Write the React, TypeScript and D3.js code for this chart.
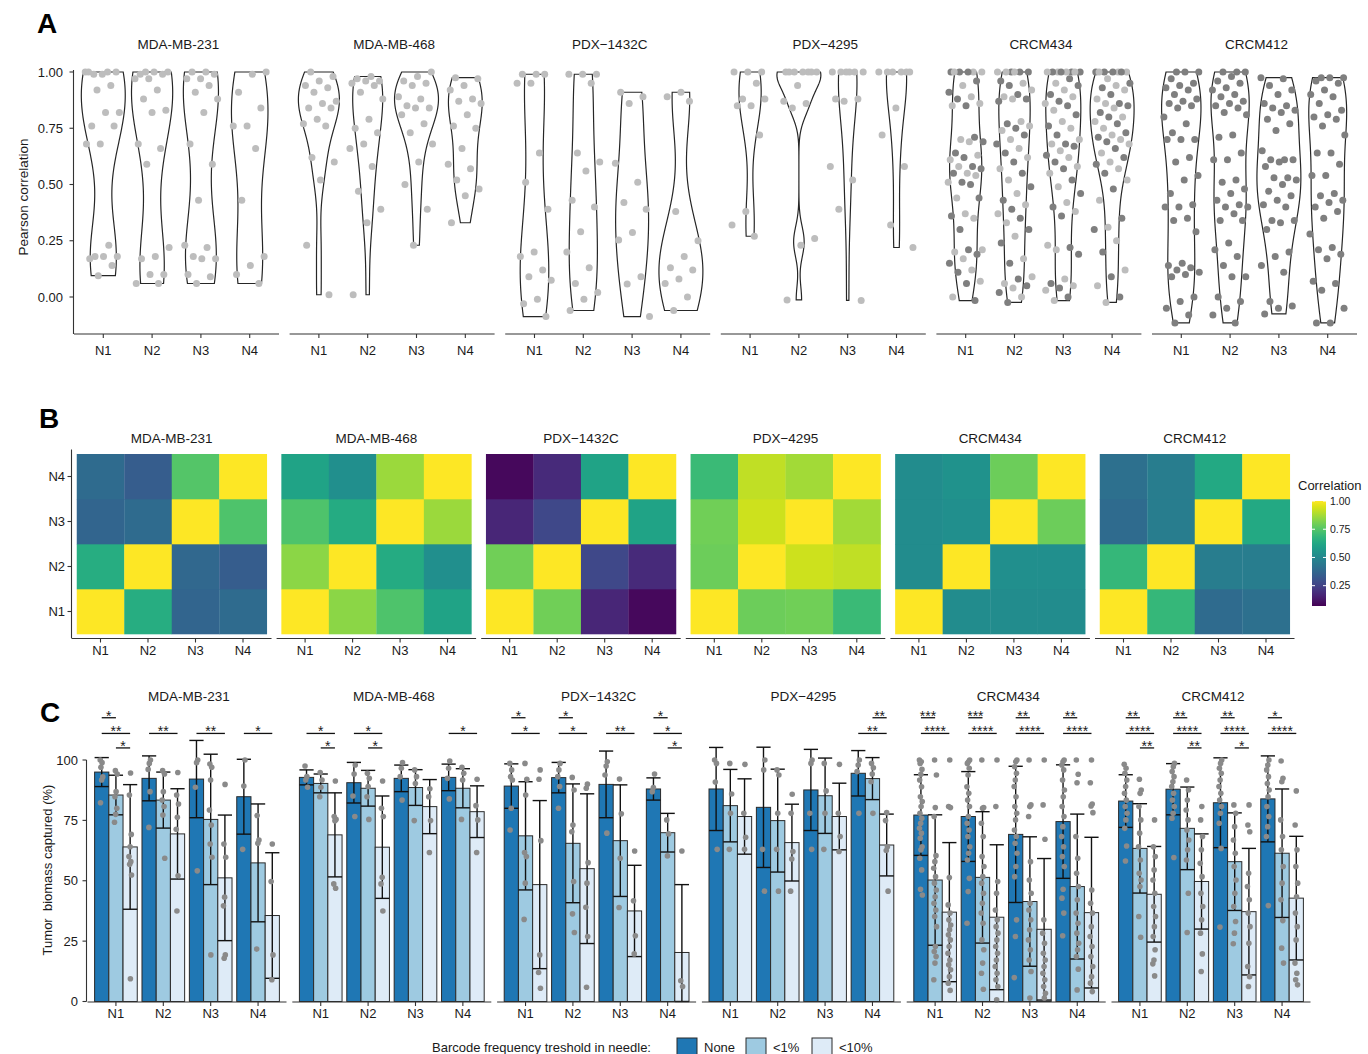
import React from "react";
import * as d3 from "d3";

const FONT = "'Liberation Sans', Arial, Helvetica, sans-serif";
const INK = "#1a1a1a";
const AXIS = "#333333";

// ---------- shared categories ----------
const models = ["MDA-MB-231", "MDA-MB-468", "PDX\u22121432C", "PDX\u22124295", "CRCM434", "CRCM412"];
const needles = ["N1", "N2", "N3", "N4"];
const thresholds = ["None", "<1%", "<10%"];
const thresholdColors = ["#1f77b4", "#9ecae1", "#deebf7"];
const yTicksA = [0, 0.25, 0.5, 0.75, 1];
const yTicksC = [0, 25, 50, 75, 100];
const corrTicks = [0.25, 0.5, 0.75, 1];
const corrDomain = [0.07, 1];

// ---------- A: per-needle Pearson correlations ----------
const violin231 = [
  [1, 1, 0.99, 1, 0.99, 1, 0.94, 0.92, 0.82, 0.82, 0.76, 0.76, 0.68, 0.68, 0.23, 0.18, 0.18, 0.18, 0.17, 0.14, 0.095],
  [1, 1, 1, 0.99, 0.99, 0.97, 0.97, 0.92, 0.88, 0.83, 0.82, 0.68, 0.66, 0.59, 0.22, 0.18, 0.17, 0.1, 0.1, 0.06, 0.06],
  [1, 1, 0.99, 0.97, 0.97, 0.94, 0.91, 0.88, 0.82, 0.68, 0.59, 0.43, 0.23, 0.22, 0.18, 0.17, 0.17, 0.1, 0.09, 0.06],
  [1, 0.99, 0.91, 0.84, 0.76, 0.76, 0.66, 0.43, 0.18, 0.14, 0.1, 0.06],
];
const violin468 = [
  [1.0, 0.98, 0.96, 0.94, 0.93, 0.91, 0.87, 0.86, 0.84, 0.84, 0.79, 0.77, 0.76, 0.62, 0.6, 0.52, 0.23, 0.01],
  [0.98, 0.97, 0.96, 0.96, 0.95, 0.94, 0.91, 0.88, 0.79, 0.75, 0.73, 0.68, 0.66, 0.58, 0.47, 0.39, 0.33, 0.01],
  [1.0, 0.98, 0.96, 0.95, 0.94, 0.89, 0.88, 0.85, 0.84, 0.84, 0.81, 0.77, 0.73, 0.68, 0.6, 0.5, 0.39, 0.23],
  [0.975, 0.97, 0.94, 0.92, 0.88, 0.87, 0.86, 0.81, 0.76, 0.75, 0.66, 0.59, 0.57, 0.52, 0.48, 0.45, 0.33],
];
const violin1432 = [
  [0.99, 0.99, 0.99, 0.95, 0.95, 0.64, 0.51, 0.39, 0.2, 0.18, 0.12, 0.09, 0.075, -0.01, -0.03, -0.087],
  [0.99, 0.99, 0.99, 0.95, 0.64, 0.6, 0.56, 0.43, 0.4, 0.29, 0.2, 0.13, 0.06, 0.02, -0.01, -0.06],
  [0.91, 0.89, 0.86, 0.595, 0.51, 0.42, 0.39, 0.287, 0.253, 0.09, 0.058, -0.087],
  [0.91, 0.89, 0.87, 0.38, 0.25, 0.18, 0.13, 0.12, 0.08, 0.06, 0.0, -0.06],
];
const violin4295 = [
  [1, 1, 1, 0.95, 0.88, 0.88, 0.85, 0.85, 0.72, 0.38, 0.32, 0.27],
  [1, 1, 1, 1, 1, 1, 1, 0.94, 0.87, 0.86, 0.84, 0.26, 0.23, -0.013],
  [1, 1, 1, 1, 1, 1, 0.88, 0.88, 0.87, 0.58, 0.52, 0.39, -0.015],
  [1, 1, 1, 1, 1, 1, 0.84, 0.72, 0.58, 0.32, 0.22],
];
const violin434 = [
  [1, 1, 1, 1, 1, 1, 0.96, 0.94, 0.91, 0.89, 0.88, 0.86, 0.85, 0.85, 0.71, 0.7, 0.69, 0.69, 0.64, 0.63, 0.62, 0.61,
    0.58, 0.58, 0.57, 0.55, 0.55, 0.54, 0.51, 0.51, 0.5, 0.44, 0.44, 0.37, 0.36, 0.35, 0.3, 0.21, 0.21, 0.2, 0.19,
    0.17, 0.15, 0.12, 0.11, 0.07, 0.06, 0.0, -0.016],
  [1, 1, 1, 1, 1, 1, 0.96, 0.95, 0.94, 0.92, 0.9, 0.89, 0.88, 0.88, 0.87, 0.78, 0.77, 0.76, 0.75, 0.74, 0.72, 0.7,
    0.68, 0.66, 0.64, 0.62, 0.6, 0.57, 0.55, 0.52, 0.49, 0.46, 0.43, 0.41, 0.39, 0.37, 0.35, 0.33, 0.3, 0.27, 0.24,
    0.17, 0.15, 0.09, 0.08, 0.06, 0.05, 0.04, 0.02, 0.0, -0.024],
  [1, 1, 1, 1, 1, 1, 1, 1, 0.97, 0.95, 0.94, 0.92, 0.9, 0.89, 0.87, 0.86, 0.85, 0.83, 0.81, 0.78, 0.76, 0.75, 0.72,
    0.7, 0.68, 0.68, 0.67, 0.65, 0.63, 0.62, 0.6, 0.58, 0.57, 0.55, 0.52, 0.49, 0.46, 0.42, 0.4, 0.38, 0.36, 0.23,
    0.22, 0.21, 0.19, 0.08, 0.06, 0.05, 0.04, 0.03, 0.0, -0.016],
  [1, 1, 1, 1, 1, 1, 1, 0.97, 0.95, 0.94, 0.93, 0.92, 0.9, 0.88, 0.86, 0.86, 0.85, 0.84, 0.82, 0.8, 0.8, 0.78, 0.77,
    0.75, 0.73, 0.72, 0.71, 0.7, 0.69, 0.68, 0.66, 0.64, 0.62, 0.6, 0.59, 0.57, 0.55, 0.52, 0.48, 0.43, 0.35, 0.31,
    0.3, 0.25, 0.2, 0.12, 0.09, 0.05, 0.0, -0.024],
];
const violin412 = [
  [1, 1, 1, 0.97, 0.95, 0.94, 0.93, 0.92, 0.9, 0.88, 0.87, 0.86, 0.85, 0.84, 0.8, 0.77, 0.73, 0.7, 0.7, 0.7, 0.62,
    0.6, 0.54, 0.52, 0.46, 0.41, 0.4, 0.4, 0.35, 0.34, 0.29, 0.15, 0.14, 0.13, 0.12, 0.11, 0.1, 0.09, 0.0, -0.02,
    -0.05, -0.08, -0.115],
  [1, 1, 1, 0.98, 0.96, 0.95, 0.93, 0.92, 0.9, 0.89, 0.87, 0.86, 0.85, 0.84, 0.82, 0.81, 0.72, 0.71, 0.64, 0.61,
    0.61, 0.52, 0.51, 0.48, 0.46, 0.43, 0.41, 0.4, 0.4, 0.37, 0.34, 0.34, 0.24, 0.21, 0.18, 0.14, 0.09, 0.09, 0.0,
    -0.02, -0.05, -0.08, -0.115],
  [0.975, 0.97, 0.94, 0.92, 0.9, 0.86, 0.85, 0.84, 0.83, 0.82, 0.79, 0.77, 0.74, 0.65, 0.61, 0.61, 0.61, 0.6, 0.58,
    0.53, 0.53, 0.52, 0.5, 0.47, 0.45, 0.43, 0.41, 0.4, 0.34, 0.34, 0.33, 0.3, 0.2, 0.18, 0.14, 0.11, -0.02, -0.04,
    -0.05, -0.075],
  [0.975, 0.975, 0.975, 0.96, 0.95, 0.92, 0.9, 0.89, 0.86, 0.83, 0.81, 0.8, 0.79, 0.76, 0.72, 0.64, 0.64, 0.59,
    0.54, 0.54, 0.46, 0.45, 0.43, 0.42, 0.4, 0.38, 0.35, 0.28, 0.22, 0.21, 0.19, 0.17, 0.07, 0.06, 0.03, -0.05,
    -0.115, -0.115],
];
const violinSets = [violin231, violin468, violin1432, violin4295, violin434, violin412];
// point shade per model: light, dark, or mixed mice
const pointShade = ["light", "light", "light", "light", "mixed", "dark"];

// ---------- B: needle x needle correlation matrices (rows N1..N4, cols N1..N4) ----------
const corr231 = [
  [1, 0.65, 0.37, 0.39],
  [0.65, 1, 0.38, 0.34],
  [0.37, 0.39, 1, 0.74],
  [0.39, 0.34, 0.75, 1],
];
const corr468 = [
  [1, 0.84, 0.74, 0.61],
  [0.84, 1, 0.64, 0.53],
  [0.74, 0.64, 1, 0.86],
  [0.61, 0.53, 0.86, 1],
];
const corr1432 = [
  [1, 0.8, 0.17, 0.09],
  [0.8, 1, 0.27, 0.18],
  [0.17, 0.27, 1, 0.61],
  [0.09, 0.18, 0.61, 1],
];
const corr4295 = [
  [1, 0.79, 0.8, 0.7],
  [0.79, 1, 0.93, 0.91],
  [0.8, 0.93, 1, 0.87],
  [0.7, 0.91, 0.87, 1],
];
const corr434 = [
  [1, 0.52, 0.52, 0.52],
  [0.52, 1, 0.53, 0.53],
  [0.52, 0.53, 1, 0.79],
  [0.52, 0.54, 0.79, 1],
];
const corr412 = [
  [1, 0.69, 0.39, 0.41],
  [0.69, 1, 0.46, 0.46],
  [0.39, 0.46, 1, 0.63],
  [0.41, 0.46, 0.63, 1],
];
const corrSets = [corr231, corr468, corr1432, corr4295, corr434, corr412];

// ---------- C: tumor biomass captured, [needle][threshold] ----------
const mean231 = [[95, 85.5, 64], [92.4, 83.4, 69.4], [92.1, 75.4, 51.2], [84.8, 57.4, 35.6]];
const sd231 = [[6, 8.2, 25.8], [9.3, 11.6, 18.7], [16, 27, 26], [15.5, 24.4, 26]];
const mean468 = [[92.8, 90.3, 69], [90.6, 88.3, 63.9], [92.4, 88.6, 80.7], [92.8, 88.3, 78.6]];
const sd468 = [[3.1, 3.9, 17.4], [8.4, 7.4, 21.2], [5.5, 7.4, 11.2], [5.5, 8.1, 10.7]];
const mean1432 = [[89.2, 68.6, 48.4], [92.7, 65.5, 55], [89.9, 66.6, 37.5], [88, 69.9, 20.3]];
const sd1432 = [[9.2, 22.4, 34.8], [6.3, 24.6, 31], [13.8, 23.1, 18.9], [4.6, 8, 28.1]];
const mean4295 = [[88, 81.1, 76.6], [80.4, 74.9, 65.8], [87.6, 85.2, 76.6], [94.5, 92.3, 64.8]];
const sd4295 = [[17.2, 15, 15.6], [24.9, 21.3, 15.9], [16.8, 15.6, 13.8], [9.4, 8.7, 12.8]];
const mean434 = [[77.2, 50.3, 37], [76.6, 51.4, 34.9], [69.2, 41.4, 29.9], [74.5, 47.6, 36.8]];
const sd434 = [[16.7, 27, 28.8], [18.6, 27.2, 30], [28.2, 26.8, 29.3], [23.5, 30, 31.2]];
const mean412 = [[83, 63.4, 44.4], [87.9, 71.7, 49.7], [82.3, 57.9, 37.2], [83.9, 61.4, 42.8]];
const sd412 = [[10.9, 18.5, 19.8], [10.6, 17.1, 19.7], [18.6, 20.2, 26.2], [17.8, 26.6, 25.6]];

const pts231 = [
  [[100, 98.9, 97, 93, 91.7, 82.3], [95.6, 94.2, 86.9, 84.8, 80, 77.5, 74.2], [94.6, 85.5, 69.2, 64.1, 60, 57.9, 56.8, 52.4, 9.4]],
  [[100, 98.6, 96.1, 86.9, 72.1], [95.6, 94.2, 86.9, 83.4, 80.7, 77.2, 59.3], [94.8, 85.5, 81.8, 76.3, 71.3, 52.1, 37.5]],
  [[100, 98.9, 88.7, 54.1], [98.3, 97, 91.7, 79.3, 73.1, 65.2, 59.7, 19.3], [89.9, 65.2, 59.7, 43.2, 39.6, 19.3, 17.9]],
  [[100, 89.2, 63], [77, 66.9, 65.5, 21.7], [65.2, 49.7, 19.3, 9]],
];
const pts468 = [
  [[97.5, 93.1, 91.7, 88.7], [94.8, 91.7, 88.7, 84.8], [91.3, 76.6, 75.4, 74.8, 48.7, 46.9]],
  [[97.9, 94.2, 85.1, 76.6], [94.5, 92.4, 89, 84.8, 75.4], [91.3, 80, 76.6, 51.4, 48.7, 37.5]],
  [[98.9, 96.6, 93.1, 83.4], [95.9, 93.1, 90.3, 74.9], [88.1, 84.8, 74.9, 61.7]],
  [[99.6, 96.6, 92.4, 83.9], [97, 94.5, 91.7, 75.4], [92, 81.1, 75.2, 61.7]],
];
const pts1432 = [
  [[98.6, 95.9, 93.1, 91.7, 80, 71], [98.6, 92, 85.5, 61.7, 60, 49, 34], [95.9, 92, 66.6, 19.3, 12, 5.5]],
  [[98.6, 95.9, 93.1, 89, 80], [92.8, 87.6, 73.1, 70.3, 49.7, 36.3, 28.6], [90, 88.3, 57.5, 49, 39, 26.9, 5.9]],
  [[99.3, 97.5, 93.8, 69.7], [92.1, 77.7, 59.3, 38.9], [62.3, 41.7, 27.2, 19.7]],
  [[94.2, 88.6, 86.9], [75.2, 69.4, 60.3], [62.3, 8.6, 6.2]],
];
const pts4295 = [
  [[100, 98.6, 90.9, 63], [98.6, 85.9, 77.9, 63], [98.2, 77.9, 68, 63]],
  [[100, 95.9, 63, 45.7], [95.9, 93.8, 77.9, 63, 45.7], [85.8, 77.9, 62.1, 59, 45.7]],
  [[100, 98.6, 77.9, 63], [98.6, 87.2, 77.9, 63], [98.2, 77.9, 68.3, 62.1]],
  [[100, 97.9, 95.2, 77.9], [98.6, 96.8, 94.2, 91, 77.9], [78.2, 74.9, 64.1, 62.5, 45.7]],
];
const pts434 = [
  [[100, 99.3, 98.6, 96.1, 94.1, 91.7, 88.9, 84.8, 82.8, 80.7, 77.9, 75.9, 73.8, 71.7, 69.7, 67.6, 64.1, 62.8, 59.3, 54.5, 46.5, 44.1],
    [100, 93.8, 80.3, 76.6, 60.4, 57.9, 55.2, 51.7, 49, 46.2, 43.4, 40.7, 37.9, 35.2, 31, 22.8, 20.7, 18.6, 15.9, 9],
    [100, 80.7, 80.3, 51.3, 40, 36.6, 33.8, 31.7, 29.7, 27.6, 25.5, 22.8, 20, 17.2, 15.2, 13.1, 10.3, 7.6, 4.6]],
  [[100, 99.3, 98.6, 96.6, 93.8, 88.9, 86.2, 83.4, 80.7, 76.6, 73.8, 71, 68.3, 64.1, 61.4, 58.6, 51, 45.5, 32.4],
    [100, 80.3, 80, 73.8, 68.3, 60, 55.9, 51.7, 49, 44.8, 40.7, 36.6, 32.4, 25.5, 21.4, 15.9, 11.7, 5.1],
    [100, 80.7, 49.7, 44.8, 37.9, 33.8, 31, 28.3, 25.5, 22.8, 20, 17.2, 14.5, 11.7, 9, 6.2, 0.7]],
  [[100, 99.3, 97.2, 94.5, 91.7, 89, 84.8, 80.7, 77.9, 75.2, 71, 68.3, 65.5, 61.4, 55.9, 51.7, 33.8, 26.9, 9.9],
    [100, 81.4, 80.7, 76.6, 57.9, 50.3, 44.8, 40.7, 37.9, 33.8, 29.7, 25.5, 21.4, 17.2, 12.4, 1.4],
    [100, 81.4, 67.2, 33.8, 28.3, 24.1, 20, 17.2, 14.5, 11.7, 9, 6.2, 3.4, 1.4]],
  [[100, 99.3, 97.9, 95.9, 91.7, 87.6, 84.8, 80.7, 76.6, 72.4, 68.3, 64.1, 60, 55.9, 46.5, 42.8, 36.6, 27.2],
    [100, 94.1, 90.6, 68.3, 59.3, 53.1, 47.6, 42.1, 36.6, 32.4, 28.3, 24.1, 21.4, 18.6, 13.4, 4.8],
    [100, 90.6, 81.8, 81, 78.2, 46.2, 40.7, 36.6, 31, 26.9, 22.8, 18.6, 14.5, 10.3, 7.6, 4.1]],
];
const pts412 = [
  [[98.2, 96.6, 94.5, 91.7, 89, 86.2, 83.4, 80.7, 77.9, 75.2, 71.7, 64.4, 58.2],
    [92, 87.6, 86.2, 80.7, 75.2, 69.7, 64.1, 58.6, 53.1, 50.3, 47.6, 35.2, 26.6],
    [75.2, 64.1, 60, 54.5, 50.3, 44.8, 39.3, 35.2, 31, 26.9, 21.4, 17.2, 15.6, 10.6]],
  [[98.6, 97.2, 95.2, 93.1, 91, 89, 86.2, 83.4, 80.7, 77.9, 75.9, 59.6],
    [91.7, 87.6, 83.4, 79.3, 75.2, 71, 66.9, 62.8, 58.6, 44.8, 28.6],
    [80.7, 75.2, 68.3, 62.8, 57.2, 51.7, 44.8, 39.3, 33.8, 28.3, 19.7, 12.4]],
  [[100, 98.6, 96.6, 94.5, 91.7, 89, 86.2, 83.4, 80.7, 77.9, 73.8, 63.4, 30.8],
    [81.4, 77.9, 72.4, 66.9, 61.4, 55.9, 50.3, 44.8, 39.3, 33.1, 28.3, 23.9],
    [81.4, 73.1, 70.3, 53.1, 47.6, 42.1, 36.6, 31, 24.1, 14.5, 10.3, 6.2]],
  [[100, 97.9, 95.9, 93.1, 90.3, 87.6, 84.8, 80.7, 76.6, 72.4, 68.3, 39.7],
    [99.6, 92.4, 91, 75.2, 68.3, 62.8, 55.9, 49, 42.1, 33.5, 22.1, 15.9],
    [87.2, 73.1, 62.8, 55.9, 49, 43.4, 36.6, 31, 25.5, 15.9, 11.7, 9, 6.9]],
];

// significance brackets: [needle, fromThreshold, toThreshold, label, tier]
const sig231 = [[0, 0, 1, "*", 0], [0, 0, 2, "**", 1], [0, 1, 2, "*", 2], [1, 0, 2, "**", 1], [2, 0, 2, "**", 1], [3, 0, 2, "*", 1]];
const sig468 = [[0, 0, 2, "*", 1], [0, 1, 2, "*", 2], [1, 0, 2, "*", 1], [1, 1, 2, "*", 2], [3, 0, 2, "*", 1]];
const sig1432 = [[0, 0, 1, "*", 0], [0, 0, 2, "*", 1], [1, 0, 1, "*", 0], [1, 0, 2, "*", 1], [2, 0, 2, "**", 1],
  [3, 0, 1, "*", 0], [3, 0, 2, "*", 1], [3, 1, 2, "*", 2]];
const sig4295 = [[3, 1, 2, "**", 0], [3, 0, 2, "**", 1]];
const sig434 = [[0, 0, 1, "***", 0], [0, 0, 2, "****", 1], [1, 0, 1, "***", 0], [1, 0, 2, "****", 1],
  [2, 0, 1, "**", 0], [2, 0, 2, "****", 1], [3, 0, 1, "**", 0], [3, 0, 2, "****", 1]];
const sig412 = [[0, 0, 1, "**", 0], [0, 0, 2, "****", 1], [0, 1, 2, "**", 2], [1, 0, 1, "**", 0], [1, 0, 2, "****", 1],
  [1, 1, 2, "**", 2], [2, 0, 1, "**", 0], [2, 0, 2, "****", 1], [2, 1, 2, "*", 2], [3, 0, 1, "*", 0], [3, 0, 2, "****", 1]];
const bracketTiers = [117.5, 111, 105];

const meanSets = [mean231, mean468, mean1432, mean4295, mean434, mean412];
const sdSets = [sd231, sd468, sd1432, sd4295, sd434, sd412];
const ptsSets = [pts231, pts468, pts1432, pts4295, pts434, pts412];
const sigSets = [sig231, sig468, sig1432, sig4295, sig434, sig412];

// ---------- helpers ----------
function bandwidthNrd0(x: number[]): number {
  const s = [...x].sort(d3.ascending);
  const sd = d3.deviation(s) ?? 0;
  const iqr = (d3.quantileSorted(s, 0.75) ?? 0) - (d3.quantileSorted(s, 0.25) ?? 0);
  let lo = Math.min(sd, iqr / 1.34);
  if (!(lo > 0)) lo = sd || Math.abs(s[0]) || 1;
  return 0.9 * lo * Math.pow(s.length, -0.2);
}

function violinProfile(values: number[]): [number, number][] {
  const bw = bandwidthNrd0(values) * 1.1;
  const lo = d3.min(values) as number;
  const hi = d3.max(values) as number;
  const n = 200;
  return d3.range(n + 1).map((i) => {
    const y = lo + ((hi - lo) * i) / n;
    const dens = (d3.mean(values, (v) => Math.exp(-0.5 * ((y - v) / bw) ** 2)) as number) / (bw * Math.sqrt(2 * Math.PI));
    return [y, dens];
  });
}

// deterministic spread of overlapping points (low-discrepancy sequence)
function spread(i: number, seed: number): number {
  const f = (i * 0.6180339887 + seed * 0.3183098862) % 1;
  return f - 0.5;
}

const lineGen = d3.line();

// ---------- Panel A ----------
const yA = d3.scaleLinear().domain([0, 1]).range([297, 72]);
const aTop = 70;
const aBottom = 334;
const aFacetX = (i: number) => 74 + i * 215.6;
const aFacetW = 205;

function PanelA() {
  return (
    <g>
      <text x={37} y={33} fontSize={28} fontWeight="bold" fill="#000">A</text>
      <line x1={73.5} x2={73.5} y1={aTop} y2={aBottom} stroke={AXIS} strokeWidth={1.1} />
      {yTicksA.map((t) => (
        <g key={t}>
          <line x1={69.5} x2={73.5} y1={yA(t)} y2={yA(t)} stroke={AXIS} strokeWidth={1.1} />
          <text x={63} y={yA(t)} dy="0.35em" textAnchor="end" fontSize={13} fill={INK}>{d3.format(".2f")(t)}</text>
        </g>
      ))}
      <text transform={`translate(27.5,197) rotate(-90)`} textAnchor="middle" fontSize={13.5} fill={INK}>Pearson correlation</text>
      {violinSets.map((set, fi) => {
        const x0 = aFacetX(fi);
        const x = d3.scalePoint<string>().domain(needles).range([x0, x0 + aFacetW]).padding(0.6);
        const step = x.step();
        const profiles = set.map(violinProfile);
        const maxD = d3.max(profiles.flat(), (d) => d[1]) as number;
        const wScale = (0.45 * step) / maxD;
        const shade = pointShade[fi];
        return (
          <g key={fi}>
            <text x={x0 + aFacetW / 2 + 2} y={49} textAnchor="middle" fontSize={13.5} fill={INK}>{models[fi]}</text>
            <line x1={x0} x2={x0 + aFacetW} y1={aBottom} y2={aBottom} stroke={AXIS} strokeWidth={1.1} />
            {needles.map((n) => (
              <g key={n}>
                <line x1={x(n)} x2={x(n)} y1={aBottom} y2={aBottom + 4} stroke={AXIS} strokeWidth={1.1} />
                <text x={x(n)} y={355} textAnchor="middle" fontSize={13} fill={INK}>{n}</text>
              </g>
            ))}
            {profiles.map((prof, ni) => {
              const cx = x(needles[ni]) as number;
              const left = prof.map(([v, d]) => [cx - d * wScale, yA(v)] as [number, number]);
              const right = prof.slice().reverse().map(([v, d]) => [cx + d * wScale, yA(v)] as [number, number]);
              return (
                <path key={ni} d={(lineGen([...left, ...right]) ?? "") + "Z"} fill="white" stroke="#262626" strokeWidth={1.2} />
              );
            })}
            {set.map((vals, ni) => {
              const cx = x(needles[ni]) as number;
              return vals.map((v, pi) => {
                const fill = shade === "dark" ? "#7f7f7f" : shade === "mixed" ? (pi % 2 === 0 ? "#7f7f7f" : "#bdbdbd") : "#bdbdbd";
                return (
                  <circle key={`${ni}-${pi}`} cx={cx + spread(pi, fi * 4 + ni) * 2 * 0.37 * step} cy={yA(v)} r={3.5} fill={fill} />
                );
              });
            })}
          </g>
        );
      })}
    </g>
  );
}

// ---------- Panel B ----------
const bFacetX = (i: number) => 72 + i * 204.6;
const bFacetW = 199.5;
const bTop = 449.5;
const bBottom = 638.5;
const corrColor = (v: number) => d3.interpolateViridis((v - corrDomain[0]) / (corrDomain[1] - corrDomain[0]));

function PanelB() {
  const y = d3.scalePoint<string>().domain(needles).range([bBottom, bTop]).padding(0.6);
  const ystep = y.step();
  const legY = d3.scaleLinear().domain(corrDomain).range([606, 501]);
  return (
    <g>
      <text x={39} y={428} fontSize={28} fontWeight="bold" fill="#000">B</text>
      <line x1={71.5} x2={71.5} y1={bTop} y2={bBottom} stroke={AXIS} strokeWidth={1.1} />
      {needles.map((n) => (
        <g key={n}>
          <line x1={67.5} x2={71.5} y1={y(n)} y2={y(n)} stroke={AXIS} strokeWidth={1.1} />
          <text x={65} y={y(n)} dy="0.35em" textAnchor="end" fontSize={13} fill={INK}>{n}</text>
        </g>
      ))}
      {corrSets.map((mat, fi) => {
        const x0 = bFacetX(fi);
        const x = d3.scalePoint<string>().domain(needles).range([x0, x0 + bFacetW]).padding(0.6);
        const step = x.step();
        return (
          <g key={fi}>
            <text x={x0 + bFacetW / 2} y={443} textAnchor="middle" fontSize={13.5} fill={INK}>{models[fi]}</text>
            {mat.map((row, ri) =>
              row.map((v, ci) => (
                <rect
                  key={`${ri}-${ci}`}
                  x={(x(needles[ci]) as number) - step / 2}
                  y={(y(needles[ri]) as number) - ystep / 2}
                  width={step + 0.3}
                  height={ystep + 0.3}
                  fill={corrColor(v)}
                />
              ))
            )}
            <line x1={x0} x2={x0 + bFacetW} y1={bBottom} y2={bBottom} stroke={AXIS} strokeWidth={1.1} />
            {needles.map((n) => (
              <g key={n}>
                <line x1={x(n)} x2={x(n)} y1={bBottom} y2={bBottom + 4} stroke={AXIS} strokeWidth={1.1} />
                <text x={x(n)} y={655} textAnchor="middle" fontSize={13} fill={INK}>{n}</text>
              </g>
            ))}
          </g>
        );
      })}
      <defs>
        <linearGradient id="viridisBar" x1="0" y1="1" x2="0" y2="0">
          {d3.range(0, 1.0001, 0.05).map((t) => (
            <stop key={t} offset={t} stopColor={d3.interpolateViridis(t)} />
          ))}
        </linearGradient>
      </defs>
      <text x={1298} y={490} fontSize={13} fill={INK}>Correlation</text>
      <rect x={1312} y={legY(1)} width={14} height={legY(corrDomain[0]) - legY(1)} fill="url(#viridisBar)" />
      {corrTicks.map((t) => (
        <g key={t}>
          <line x1={1312} x2={1315} y1={legY(t)} y2={legY(t)} stroke="white" strokeWidth={1} />
          <line x1={1323} x2={1326} y1={legY(t)} y2={legY(t)} stroke="white" strokeWidth={1} />
          <text x={1330} y={legY(t)} dy="0.35em" fontSize={10.5} fill={INK}>{d3.format(".2f")(t)}</text>
        </g>
      ))}
    </g>
  );
}

// ---------- Panel C ----------
const yC = d3.scaleLinear().domain([0, 100]).range([1001.5, 760]);
const cFacetX = (i: number) => 87.5 + i * 204.8;
const cFacetW = 199;

function PanelC() {
  return (
    <g>
      <text x={40} y={722} fontSize={28} fontWeight="bold" fill="#000">C</text>
      <line x1={86.5} x2={86.5} y1={yC(100)} y2={yC(0)} stroke={AXIS} strokeWidth={1.1} />
      {yTicksC.map((t) => (
        <g key={t}>
          <line x1={82.5} x2={86.5} y1={yC(t)} y2={yC(t)} stroke={AXIS} strokeWidth={1.1} />
          <text x={78} y={yC(t)} dy="0.35em" textAnchor="end" fontSize={13} fill={INK}>{t}</text>
        </g>
      ))}
      <text transform={`translate(51.5,870) rotate(-90)`} textAnchor="middle" fontSize={13} fill={INK} style={{ whiteSpace: "pre" }}>
        {"Tumor  biomass captured (%)"}
      </text>
      {meanSets.map((means, fi) => {
        const x0 = cFacetX(fi);
        const x = d3.scalePoint<string>().domain(needles).range([x0, x0 + cFacetW]).padding(0.6);
        const step = x.step();
        const barW = 0.3 * step;
        const bx = (ni: number, ti: number) => (x(needles[ni]) as number) + (ti - 1) * barW;
        const sds = sdSets[fi];
        const pts = ptsSets[fi];
        return (
          <g key={fi}>
            <text x={x0 + cFacetW / 2 + 2} y={701} textAnchor="middle" fontSize={13.5} fill={INK}>{models[fi]}</text>
            {means.map((row, ni) =>
              row.map((m, ti) => (
                <rect key={`b${ni}-${ti}`} x={bx(ni, ti) - barW / 2} y={yC(m)} width={barW} height={yC(0) - yC(m)}
                  fill={thresholdColors[ti]} stroke="#2a2a2a" strokeWidth={1} />
              ))
            )}
            {means.map((row, ni) =>
              row.map((m, ti) => {
                const cx = bx(ni, ti);
                const hi = yC(m + sds[ni][ti]);
                const lo = yC(Math.max(0, m - sds[ni][ti]));
                return (
                  <g key={`e${ni}-${ti}`} stroke="#111" strokeWidth={1.4}>
                    <line x1={cx} x2={cx} y1={hi} y2={lo} />
                    <line x1={cx - barW / 2} x2={cx + barW / 2} y1={hi} y2={hi} />
                    <line x1={cx - barW / 2} x2={cx + barW / 2} y1={lo} y2={lo} />
                  </g>
                );
              })
            )}
            {pts.map((grp, ni) =>
              grp.map((vals, ti) =>
                vals.map((v, pi) => (
                  <circle key={`p${ni}-${ti}-${pi}`} cx={bx(ni, ti) + spread(pi, ni * 3 + ti) * 3} cy={yC(v)} r={2.8} fill="#8a8a8a" />
                ))
              )
            )}
            {sigSets[fi].map((s, si) => {
              const [ni, a, b, lab, tier] = s as [number, number, number, string, number];
              const ly = yC(bracketTiers[tier]);
              const xa = bx(ni, a);
              const xb = bx(ni, b);
              return (
                <g key={`s${si}`}>
                  <line x1={xa} x2={xb} y1={ly} y2={ly} stroke="#111" strokeWidth={1.3} />
                  <text x={(xa + xb) / 2} y={ly + 3} textAnchor="middle" fontSize={14} fill={INK}>{lab}</text>
                </g>
              );
            })}
            <line x1={x0} x2={x0 + cFacetW} y1={1002} y2={1002} stroke={AXIS} strokeWidth={1.1} />
            {needles.map((n) => (
              <g key={n}>
                <line x1={x(n)} x2={x(n)} y1={1002} y2={1006} stroke={AXIS} strokeWidth={1.1} />
                <text x={x(n)} y={1018} textAnchor="middle" fontSize={13} fill={INK}>{n}</text>
              </g>
            ))}
          </g>
        );
      })}
      {/* fill legend */}
      <text x={432} y={1052} fontSize={13} fill={INK}>Barcode frequency treshold in needle:</text>
      {thresholds.map((t, i) => {
        const kx = [677, 746, 812][i];
        return (
          <g key={t}>
            <rect x={kx} y={1038} width={20} height={18} fill={thresholdColors[i]} stroke="#2a2a2a" strokeWidth={1} />
            <text x={kx + 27} y={1052} fontSize={13} fill={INK}>{t}</text>
          </g>
        );
      })}
    </g>
  );
}

export default function App() {
  return (
    <svg
      width={1368}
      height={1054}
      viewBox="0 0 1368 1054"
      style={{ position: "absolute", left: 0, top: 0, display: "block" }}
      fontFamily={FONT}
    >
      <rect width={1368} height={1054} fill="white" />
      <PanelA />
      <PanelB />
      <PanelC />
    </svg>
  );
}
